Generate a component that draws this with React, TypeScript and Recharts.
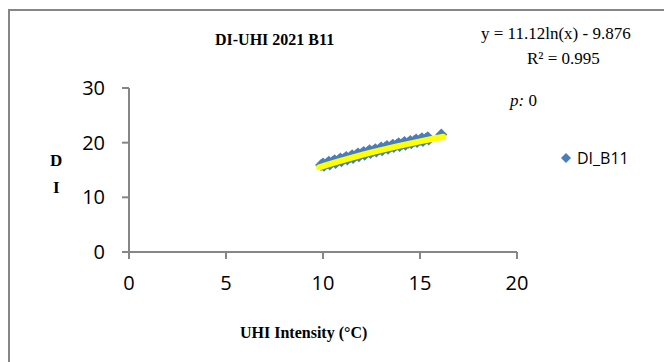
import { Scatter, ScatterChart, XAxis, YAxis } from "recharts";

// UHI intensity (°C) vs DI
const uhiValues = [
  9.9, 10.0, 10.05, 10.2, 10.3, 10.35, 10.5, 10.6, 10.65, 10.8, 10.9, 10.95,
  11.1, 11.2, 11.25, 11.4, 11.5, 11.55, 11.7, 11.8, 11.85, 12.0, 12.1, 12.15,
  12.3, 12.4, 12.45, 12.6, 12.7, 12.75, 12.9, 13.0, 13.05, 13.2, 13.3, 13.35,
  13.5, 13.6, 13.65, 13.8, 13.9, 13.95, 14.1, 14.2, 14.25, 14.4, 14.5, 14.55,
  14.7, 14.8, 14.85, 15.0, 15.1, 15.15, 15.3, 15.4, 15.45, 16.1,
];
const diValues = [
  15.9, 16.2, 15.8, 16.2, 16.5, 16.0, 16.5, 16.8, 16.3, 16.8, 17.1, 16.6,
  17.1, 17.4, 16.9, 17.4, 17.7, 17.2, 17.7, 18.0, 17.5, 18.0, 18.3, 17.8,
  18.3, 18.6, 18.1, 18.5, 18.8, 18.4, 18.8, 19.1, 18.6, 19.1, 19.4, 18.9,
  19.3, 19.6, 19.2, 19.6, 19.9, 19.4, 19.8, 20.1, 19.6, 20.0, 20.3, 19.9,
  20.3, 20.6, 20.1, 20.5, 20.8, 20.3, 20.7, 21.0, 20.6, 21.5,
];

// fitted log trend y = 11.12ln(x) - 9.876
const trendX = [9.8, 10.2, 10.8, 11.4, 12.0, 12.6, 13.2, 13.8, 14.4, 15.0, 15.6, 16.2];
const trendY = [15.5, 15.95, 16.58, 17.19, 17.76, 18.3, 18.82, 19.31, 19.78, 20.24, 20.67, 21.08];

const xTicks = [0, 5, 10, 15, 20];
const yTicks = [0, 10, 20, 30];

const points = uhiValues.map((x, i) => ({ x, y: diValues[i] }));
const trend = trendX.map((x, i) => ({ x, y: trendY[i] }));

const BLUE = "#4a7ebb";
const AXIS = "#868686";
const tickFont = { fontFamily: "Open Sans", fontSize: 20, fill: "#000" };
const serif = "Liberation Serif";

const Diamond = (props: any) => {
  const { cx, cy } = props;
  const r = 6;
  return (
    <polygon
      points={`${cx},${cy - r} ${cx + r},${cy} ${cx},${cy + r} ${cx - r},${cy}`}
      fill={BLUE}
    />
  );
};

const abs = (left: number, top: number, extra: any = {}) => ({
  position: "absolute" as const,
  left: left - 10,
  top: top - 11,
  fontFamily: serif,
  lineHeight: 1,
  color: "#000",
  whiteSpace: "nowrap" as const,
  ...extra,
});

export default function App() {
  return (
    <div
      style={{
        position: "relative",
        marginTop: 1,
        width: 662,
        height: 351,
        borderTop: `2px solid ${AXIS}`,
        borderLeft: `2px solid ${AXIS}`,
      }}
    >
      <ScatterChart width={662} height={351} margin={{ top: 77, right: 155, bottom: 80, left: 59 }}>
        <XAxis
          type="number"
          dataKey="x"
          domain={[0, 20]}
          ticks={xTicks}
          tick={tickFont}
          tickLine={{ stroke: AXIS, strokeWidth: 2 }}
          axisLine={{ stroke: AXIS, strokeWidth: 2 }}
          tickSize={7}
          tickMargin={17}
          height={30}
        />
        <YAxis
          type="number"
          dataKey="y"
          domain={[0, 30]}
          ticks={yTicks}
          tick={tickFont}
          tickLine={{ stroke: AXIS, strokeWidth: 2 }}
          axisLine={{ stroke: AXIS, strokeWidth: 2 }}
          tickSize={7}
          tickMargin={17}
          width={60}
        />
        <Scatter name="DI_B11" data={points} shape={<Diamond />} fill={BLUE} isAnimationActive={false} />
        <Scatter
          name="trend"
          data={trend}
          legendType="none"
          line={{ stroke: "#ffff00", strokeWidth: 6, strokeLinecap: "round" }}
          shape={() => <g />}
          isAnimationActive={false}
        />
      </ScatterChart>
      <div
        style={abs(560, 149, {
          display: "flex",
          alignItems: "center",
          fontFamily: "Open Sans",
          fontSize: 16,
          lineHeight: "18px",
        })}
      >
        <svg width={12} height={12} style={{ marginRight: 5 }}>
          <polygon points="6,1 11,6 6,11 1,6" fill={BLUE} />
        </svg>
        DI_B11
      </div>
      <div style={abs(215, 32, { fontSize: 16, fontWeight: "bold" })}>DI-UHI 2021 B11</div>
      <div style={abs(481, 25, { fontSize: 17 })}>y = 11.12ln(x) - 9.876</div>
      <div style={abs(527, 50, { fontSize: 17 })}>R² = 0.995</div>
      <div style={abs(510, 92, { fontSize: 17 })}>
        <i>p:</i> 0
      </div>
      <div style={abs(50, 152, { fontSize: 17, fontWeight: "bold" })}>D</div>
      <div style={abs(53, 179, { fontSize: 17, fontWeight: "bold" })}>I</div>
      <div style={abs(240, 325, { fontSize: 16, fontWeight: "bold" })}>UHI Intensity (°C)</div>
    </div>
  );
}
